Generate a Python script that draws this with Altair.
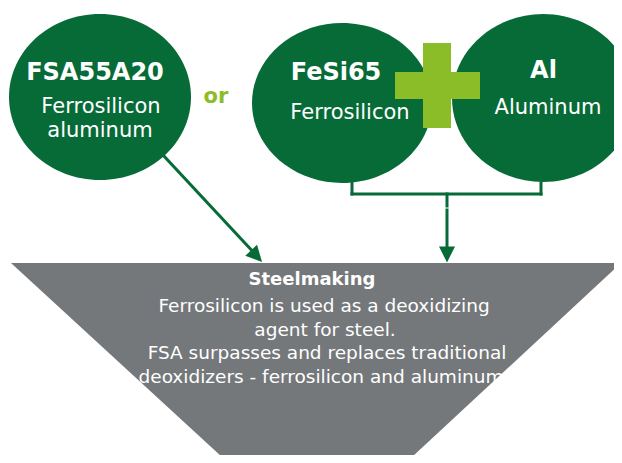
import altair as alt
import pandas as pd

# ---- text content ----
title_texts = ["FSA55A20", "FeSi65", "Al"]
sub_texts = ["Ferrosilicon", "aluminum", "Ferrosilicon", "Aluminum"]
connector_text = ["or"]
funnel_title = ["Steelmaking"]
funnel_lines = [
    "Ferrosilicon is used as a deoxidizing",
    "agent for steel.",
    "FSA surpasses and replaces traditional",
    "deoxidizers - ferrosilicon and aluminum",
]

# ---- layout (pixel coordinates of the picture) ----
title_x = [95, 336, 543.5]
title_y = [80, 80, 78]
sub_x = [101, 100, 350, 548]
sub_y = [113, 137, 119, 114]
or_x = [216]
or_y = [103]
funnel_title_x = [312]
funnel_title_y = [285]
funnel_line_x = [324, 325, 327, 321]
funnel_line_y = [312, 335.5, 359, 382.5]

ell_cx = [100, 342, 543]
ell_cy = [97, 103, 98]
ell_a = [91, 90, 91]
ell_b = [83, 80, 84]

funnel_x = [11, 222, 412, 621]
funnel_top = [263, 263, 263, 263]
funnel_bot = [263, 457, 457, 263]

DARK = "#076B38"
LIGHT = "#8BBD29"
GREY = "#75787B"

X = alt.Scale(domain=[8, 614], nice=False, zero=False)
Y = alt.Scale(domain=[8, 455], nice=False, zero=False, reverse=True)


def xe(f):
    return alt.X(f, type="quantitative", scale=X, axis=None)


def ye(f):
    return alt.Y(f, type="quantitative", scale=Y, axis=None)


def ellipse_path(q):
    k = 0.5523
    return (f"M1,0 C1,{k*q:.4f} {k},{q:.4f} 0,{q:.4f} "
            f"C{-k},{q:.4f} -1,{k*q:.4f} -1,0 "
            f"C-1,{-k*q:.4f} {-k},{-q:.4f} 0,{-q:.4f} "
            f"C{k},{-q:.4f} 1,{-k*q:.4f} 1,0 Z")


funnel_df = pd.DataFrame({"x": funnel_x, "y": funnel_top, "y2": funnel_bot})
funnel = alt.Chart(funnel_df).mark_area(color=GREY, opacity=1, interpolate="linear").encode(
    x=xe("x"), y=ye("y"), y2="y2")

base_df = pd.DataFrame({"x": [222], "x2": [410], "y": [460], "y2": [466]})
base = alt.Chart(base_df).mark_rect(color=GREY).encode(
    x=xe("x"), x2="x2", y=ye("y"), y2="y2")

ell_df = pd.DataFrame({
    "x": ell_cx, "y": ell_cy,
    "size": [(2 * a) ** 2 for a in ell_a],
    "shape": [ellipse_path(b / a) for a, b in zip(ell_a, ell_b)],
})
ellipses = alt.Chart(ell_df).mark_point(filled=True, opacity=1, color=DARK, strokeWidth=0).encode(
    x=xe("x"), y=ye("y"),
    size=alt.Size("size:Q", scale=None, legend=None),
    shape=alt.Shape("shape:N", scale=None, legend=None))

plus_df = pd.DataFrame({"x": [423, 395], "x2": [451, 480], "y": [43, 72], "y2": [128, 99]})
plus = alt.Chart(plus_df).mark_rect(color=LIGHT).encode(
    x=xe("x"), x2="x2", y=ye("y"), y2="y2")

lines_df = pd.DataFrame({
    "x": [163, 352, 352, 541, 447, 447],
    "y": [155, 183, 194, 183, 194, 210],
    "x2": [257, 352, 541, 541, 447, 447],
    "y2": [256, 194, 194, 194, 206, 250],
})
lines = alt.Chart(lines_df).mark_rule(color=DARK, strokeWidth=3, strokeCap="square").encode(
    x=xe("x"), y=ye("y"), x2="x2", y2="y2")

heads_df = pd.DataFrame({"x": [256.6, 447], "y": [256.1, 254.5], "angle": [317.2, 0]})
heads = alt.Chart(heads_df).mark_point(
    filled=True, opacity=1, color=DARK, strokeWidth=0,
    shape="M0,1 L1,-1 L-1,-1 Z", size=256).encode(
    x=xe("x"), y=ye("y"), angle=alt.Angle("angle:Q", scale=None))

FONT = "DejaVu Sans"

t1 = alt.Chart(pd.DataFrame({"t": title_texts, "x": title_x, "y": title_y})).mark_text(
    font=FONT, fontWeight="bold", fontSize=24, color="white", align="center", baseline="alphabetic").encode(
    x=xe("x"), y=ye("y"), text="t:N")

t2 = alt.Chart(pd.DataFrame({"t": sub_texts, "x": sub_x, "y": sub_y})).mark_text(
    font=FONT, fontSize=21, color="white", align="center", baseline="alphabetic").encode(
    x=xe("x"), y=ye("y"), text="t:N")

t3 = alt.Chart(pd.DataFrame({"t": connector_text, "x": or_x, "y": or_y})).mark_text(
    font=FONT, fontWeight="bold", fontSize=21, color=LIGHT, align="center", baseline="alphabetic").encode(
    x=xe("x"), y=ye("y"), text="t:N")

t4 = alt.Chart(pd.DataFrame({"t": funnel_title, "x": funnel_title_x, "y": funnel_title_y})).mark_text(
    font=FONT, fontWeight="bold", fontSize=18, color="white", align="center", baseline="alphabetic").encode(
    x=xe("x"), y=ye("y"), text="t:N")

t5 = alt.Chart(pd.DataFrame({"t": funnel_lines, "x": funnel_line_x, "y": funnel_line_y})).mark_text(
    font=FONT, fontSize=18.5, color="white", align="center", baseline="alphabetic").encode(
    x=xe("x"), y=ye("y"), text="t:N")

chart = alt.layer(funnel, base, ellipses, plus, lines, heads, t1, t2, t3, t4, t5).properties(
    width=606, height=447, padding=0, background="white",
    autosize=alt.AutoSizeParams(type="none"),
).configure_view(stroke=None)

chart.save("out.html", embed_options={"renderer": "svg", "actions": False})
